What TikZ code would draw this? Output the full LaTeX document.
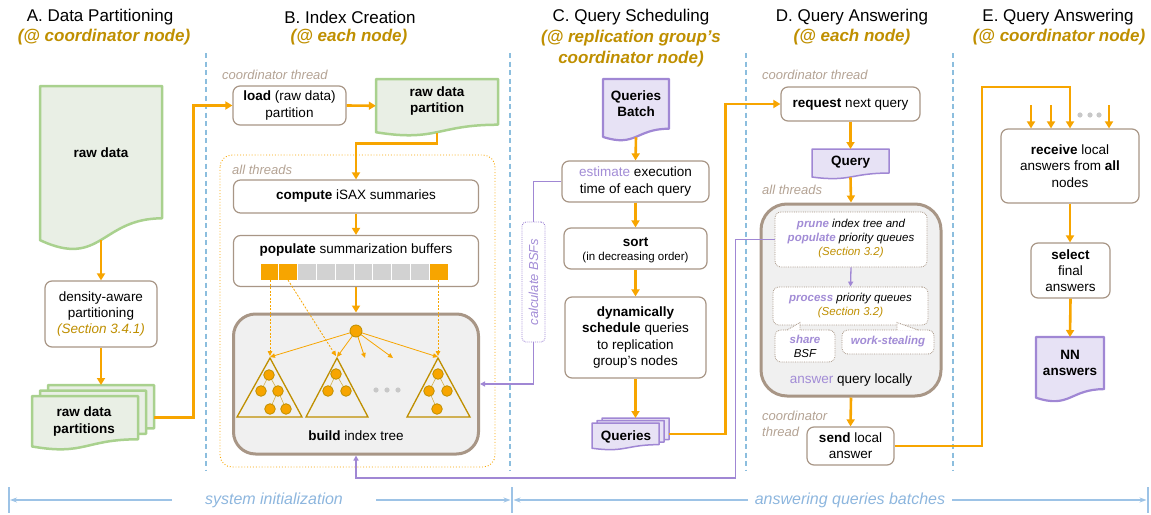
\documentclass[tikz,border=0pt]{standalone}
\usepackage{fontspec}
\setmainfont{Liberation Sans}
\usetikzlibrary{arrows.meta,calc}
\definecolor{orng}{RGB}{247,165,0}
\definecolor{gold}{RGB}{191,143,0}
\definecolor{brn}{RGB}{168,150,134}
\definecolor{thr}{RGB}{180,163,148}
\definecolor{grnb}{RGB}{169,209,142}
\definecolor{grnf}{RGB}{233,239,229}
\definecolor{purb}{RGB}{160,135,212}
\definecolor{purf}{RGB}{231,226,245}
\definecolor{purt}{RGB}{162,140,214}
\definecolor{dblue}{RGB}{140,190,222}
\definecolor{axisc}{RGB}{157,195,230}
\definecolor{axtxt}{RGB}{141,182,222}
\definecolor{boxg}{RGB}{240,240,240}
\definecolor{cellg}{RGB}{210,210,210}
\definecolor{dotg}{RGB}{200,200,200}
\newcommand{\szT}{\fontsize{17}{21}\selectfont}
\newcommand{\szB}{\fontsize{13.5}{16.3}\selectfont}
\newcommand{\szS}{\fontsize{11.5}{14}\selectfont}
\newcommand{\szL}{\fontsize{13}{16}\selectfont}
\newcommand{\szA}{\fontsize{16}{19}\selectfont}
% #1 name, #2 x0, #3 y0, #4 w, #5 h, #6 style
\newcommand{\docshape}[6]{%
  \draw[#6] (#2,#3) -- ({#2+#4},#3) -- ({#2+#4},{#3+0.802*#5})
    .. controls ({#2+0.5*#4},{#3+0.802*#5}) and ({#2+0.5*#4},{#3+1.1075*#5}) .. (#2,{#3+0.934*#5}) -- cycle;
  \node[inner sep=0pt,minimum width=#4pt,minimum height=0.933*#5pt,anchor=north] (#1) at ({#2+0.5*#4},#3) {};}
\begin{document}
\begin{tikzpicture}[x=1pt,y=-1pt,
  box/.style={draw=brn,line width=1.2pt,rounded corners=7pt,fill=white,align=center,inner sep=0pt,font=\szB},
  bigbox/.style={draw=brn,line width=3pt,rounded corners=22pt,fill=boxg,inner sep=0pt},
  dotbox/.style={draw=brn,densely dotted,line width=0.8pt,rounded corners=6pt,fill=white,inner sep=0pt},
  flow/.style={draw=orng,line width=2.6pt,-{Triangle[length=7pt,width=8pt]}},
  plink/.style={draw=purb,line width=1.3pt},
  parrow/.style={plink,-{Triangle[length=5pt,width=5pt]}},
  tarrow/.style={draw=orng,line width=0.8pt,-{Triangle[length=5pt,width=4.5pt]}},
  darrow/.style={draw=orng,line width=0.8pt,dash pattern=on 2pt off 1.5pt,-{Triangle[length=5pt,width=4.5pt]}},
  sepline/.style={draw=dblue,line width=1.6pt,dash pattern=on 5pt off 3.5pt},
  axline/.style={draw=axisc,line width=1.1pt},
  axarrow/.style={axline,-{Stealth[length=7pt,width=5pt]}},
  ttl/.style={font=\szT,inner sep=0pt},
  sub/.style={font=\szT\bfseries\itshape,text=gold,align=center,inner sep=0pt},
  lbl/.style={font=\szL\itshape,text=thr,anchor=west,align=left,inner sep=0pt},
  txt/.style={font=\szB,align=center,inner sep=0pt},
  doct/.style={font=\szB\bfseries,align=center,inner sep=0pt},
  greendoc/.style={draw=grnb,fill=grnf,line width=2.5pt,line join=round},
  purpdoc/.style={draw=purb,fill=purf,line width=2.2pt,line join=round},
  tri/.style={draw=gold,line width=1.3pt,line join=miter},
  leaf/.style={draw=gold,fill=orng,line width=0.8pt},
  tline/.style={draw=gold!70,line width=0.6pt},
]
\useasboundingbox (0,0) rectangle (1151,514);

% ---------- separators ----------
\foreach \sx in {206,510,746,953} \draw[sepline] (\sx,53) -- (\sx,470);

% ---------- titles ----------
\node[ttl] (tA) at (100,17) {A. Data Partitioning};
\node[sub] (sA) at (104,37) {(@ coordinator node)};
\node[ttl] (tB) at (350,17) {B. Index Creation};
\node[sub] (sB) at (349,37) {(@ each node)};
\node[ttl] (tC) at (631,17) {C. Query Scheduling};
\node[sub] (sC) at (631,48.5) {(@ replication group’s\\coordinator node)};
\node[ttl] (tD) at (852,17) {D. Query Answering};
\node[sub] (sD) at (852,37) {(@ each node)};
\node[ttl] (tE) at (1058,17) {E. Query Answering};
\node[sub] (sE) at (1059,37) {(@ coordinator node)};

% ---------- A ----------
\docshape{rawdata}{40}{86}{122}{165}{greendoc}
\node[doct] (rawdata-t) at (101,153) {raw data};
\node[box,minimum width=112pt,minimum height=66pt] (density) at (101,314)
  {density-aware\\partitioning\\\textcolor{gold}{\itshape (Section 3.4.1)}};
\docshape{parts3}{48}{385}{106}{54}{greendoc}
\docshape{parts2}{40}{390.5}{106}{54}{greendoc}
\docshape{parts1}{32}{396}{106}{54}{greendoc}
\node[doct] (parts-t) at (84,421.5) {raw data\\partitions};
\draw[flow] (rawdata.south) -- (density.north);
\draw[flow] (density.south) -- (parts3.north -| density.south);

% ---------- B ----------
\node[lbl] (ctB) at (222,75) {coordinator thread};
\node[box,minimum width=113pt,minimum height=39pt] (load) at (289.5,105.5) {\textbf{load} (raw data)\\partition};
\docshape{rawpart}{376}{79}{122}{57}{greendoc}
\node[doct] (rawpart-t) at (437,101) {raw data\\partition};
\draw[flow] ([yshift=-7pt]parts3.east) -- ++(39,0) |- (load.west);
\draw[flow] (load.east) -- (rawpart.west);

\draw[draw=orng,line width=0.9pt,dotted,rounded corners=12pt] (220,155) rectangle (495,467);
\node[lbl] (atB) at (232,170) {all threads};
\node[box,minimum width=245pt,minimum height=33pt] (compute) at (356,196.5) {\textbf{compute} iSAX summaries};
\node[box,minimum width=245pt,minimum height=51pt] (populate) at (356,261) {};
\node[txt] (populate-t) at (356,250) {\textbf{populate} summarization buffers};
\foreach \i/\c in {0/orng,1/orng,2/cellg,3/cellg,4/cellg,5/cellg,6/cellg,7/cellg,8/cellg,9/orng}
  \filldraw[fill=\c,draw=white,line width=0.8pt] ({260+\i*18.8},263) rectangle ++(18.8,17);
\node[bigbox,minimum width=245pt,minimum height=140pt] (build) at (356,384) {};
\node[txt] (build-t) at (356,436) {\textbf{build} index tree};
\draw[flow] (rawpart.south) -- ++(0,11) -| (compute.north);
\draw[flow] (compute.south) -- (populate.north);
\draw[flow] (populate.south) -- (build.north);

% index tree
\draw[tri] (270,358) -- (237,417) -- (302,417) -- cycle;
\draw[tri] (337,358) -- (306,417) -- (368,417) -- cycle;
\draw[tri] (438,358) -- (407,417) -- (470,417) -- cycle;
\draw[tline] (269,375) -- (261,391) (269,375) -- (278,391) (278,391) -- (270,409) (278,391) -- (286,409);
\draw[tline] (336,374) -- (328,391) (336,374) -- (346,391);
\draw[tline] (438,374) -- (429,391) (438,374) -- (447,391) (429,391) -- (437,409);
\foreach \p in {(269,375),(261,391),(278,391),(270,409),(286,409),(336,374),(328,391),(346,391),(438,374),(429,391),(447,391),(437,409)}
  \draw[leaf] \p circle (5.3pt);
\foreach \dx in {376,387,398} \fill[dotg] (\dx,390) circle (2.6pt);
\foreach \e in {(270,357),(337,357),(365,358),(393,358),(438,357)}
  \draw[tarrow] (356,331) -- \e;
\draw[leaf] (356,331) circle (6pt);
\draw[darrow] (270,280) -- (270,356);
\draw[darrow] (288,280) -- (336,356);
\draw[darrow] (438,280) -- (438,356);

% ---------- C ----------
\docshape{qbatch}{603}{79}{66}{62}{purpdoc}
\node[doct] (qbatch-t) at (636,103.5) {Queries\\Batch};
\node[box,minimum width=147pt,minimum height=41pt] (estimate) at (635.5,181.5) {\textcolor{purt}{estimate} execution\\time of each query};
\node[box,minimum width=143pt,minimum height=41pt] (sort) at (635.5,248.5) {};
\node[txt] (sort-t) at (635.5,242) {\textbf{sort}};
\node[txt,font=\fontsize{11.5}{14}\selectfont] (sort-t2) at (635.5,258) {(in decreasing order)};
\node[box,minimum width=141pt,minimum height=81pt] (schedule) at (635.5,337.5)
  {\textbf{dynamically}\\\textbf{schedule} queries\\to replication\\group’s nodes};
\docshape{q3}{602}{418}{67}{27}{purpdoc,line width=1.5pt}
\docshape{q2}{597}{420.5}{67}{27}{purpdoc,line width=1.5pt}
\docshape{q1}{592}{423}{67}{27}{purpdoc,line width=1.5pt}
\node[doct] (queries-t) at (626,437) {Queries};
\draw[flow] (qbatch.south) -- (estimate.north);
\draw[flow] (estimate.south) -- (sort.north);
\draw[flow] (sort.south) -- (schedule.north);
\draw[flow] (schedule.south) -- (q3.north -| schedule.south);

\node[draw=purb,densely dotted,line width=0.9pt,rounded corners=4pt,minimum width=23pt,minimum height=120pt,inner sep=0pt] (calcbsf) at (533.5,282) {};
\node[rotate=90,font=\szL\itshape,text=purt,inner sep=0pt] (calcbsf-t) at (533.5,282) {calculate BSFs};
\draw[plink] (estimate.west) -| (calcbsf.north);
\draw[parrow] (calcbsf.south) |- (build.east);

% ---------- D ----------
\node[lbl] (ctD) at (762,75) {coordinator thread};
\node[box,minimum width=139pt,minimum height=34pt] (request) at (850.5,104) {\textbf{request} next query};
\docshape{query}{812}{149}{77}{30}{purpdoc,line width=1.5pt}
\node[doct] (query-t) at (850.5,162) {Query};
\node[lbl] (atD) at (762,190) {all threads};
\node[bigbox,rounded corners=26pt,minimum width=180pt,minimum height=192pt] (answer) at (851,300) {};
\node[dotbox,minimum width=152pt,minimum height=55pt] (prune) at (851,239.5) {};
\node[font=\szS\itshape,align=center,inner sep=0pt] (prune-t) at (851,239)
  {\textcolor{purt}{\textbf{prune}} index tree and\\\textcolor{purt}{\textbf{populate}} priority queues\\\textcolor{gold}{(Section 3.2)}};
\node[dotbox,minimum width=155pt,minimum height=38pt] (process) at (850.5,306) {};
\node[font=\szS\itshape,align=center,inner sep=0pt] (process-t) at (850.5,306)
  {\textcolor{purt}{\textbf{process}} priority queues\\\textcolor{gold}{(Section 3.2)}};
\node[dotbox,minimum width=60pt,minimum height=32pt] (share) at (805,346) {};
\node[dotbox,minimum width=92pt,minimum height=24pt] (steal) at (888,342) {};
\fill[white] (787,330.6) -- (800,322.5) -- (800,330.6) -- cycle;
\fill[white] (897,330.6) -- (897,322.5) -- (918,330.6) -- cycle;
\draw[brn,densely dotted,line width=0.8pt] (787,330) -- (800,322.5) -- (800,330);
\draw[brn,densely dotted,line width=0.8pt] (897,330) -- (897,322.5) -- (918,330);
\node[font=\szS\itshape,align=center,inner sep=0pt] (share-t) at (805,346.5) {\textcolor{purt}{\textbf{share}}\\BSF};
\node[font=\szS\itshape\bfseries,text=purt,inner sep=0pt] (steal-t) at (888,342) {work-stealing};
\node[txt] (answer-t) at (851,380) {\textcolor{purt}{answer} query locally};
\draw[parrow] (prune.south) -- (process.north);
\node[lbl] (ctD2) at (762,424) {coordinator\\thread};
\node[box,minimum width=87pt,minimum height=38pt] (send) at (850.5,446) {\textbf{send} local\\answer};
\draw[flow] (request.south) -- (query.north);
\draw[flow] (query.south) -- (answer.north);
\draw[flow] (answer.south) -- (send.north);
\draw[flow] ([yshift=-3pt]q3.east) -- ++(56,0) |- (request.west);
\draw[parrow] (prune.west) -- ++(-39,0) |- (356,478) -- (build.south);

% ---------- E ----------
\node[box,minimum width=138pt,minimum height=74pt] (receive) at (1070,166)
  {\textbf{receive} local\\answers from \textbf{all}\\nodes};
\node[box,minimum width=79pt,minimum height=55pt] (select) at (1070.5,270.5) {\textbf{select}\\final\\answers};
\docshape{nn}{1036}{337}{68}{65}{purpdoc}
\node[doct] (nn-t) at (1070,363) {NN\\answers};
\draw[flow] (send.east) -- (982,446) |- (1070,87) -- (receive.north);
\coordinate (in1) at (1031,105);
\coordinate (in2) at (1051,105);
\coordinate (in3) at (1109,105);
\foreach \c in {in1,in2,in3} \draw[flow] (\c) -- (\c |- receive.north);
\foreach \dx in {1080,1090,1099} \fill[dotg] (\dx,115) circle (2.6pt);
\draw[flow] (receive.south) -- (select.north -| receive.south);
\draw[flow] (select.south) -- (nn.north);

% ---------- axis ----------
\draw[axline] (9,487) -- (9,513);
\draw[axline] (512,487) -- (512,513);
\draw[axline] (1148,487) -- (1148,513);
\coordinate (a1) at (172,500); \coordinate (a1e) at (10,500);
\coordinate (a2) at (376,500); \coordinate (a2e) at (510.5,500);
\coordinate (a3) at (748,500); \coordinate (a3e) at (513.5,500);
\coordinate (a4) at (952,500); \coordinate (a4e) at (1146.5,500);
\draw[axarrow] (a1) -- (a1e);
\draw[axarrow] (a2) -- (a2e);
\draw[axarrow] (a3) -- (a3e);
\draw[axarrow] (a4) -- (a4e);
\node[font=\szA\itshape,text=axtxt,inner sep=0pt] (init) at (274,500) {system initialization};
\node[font=\szA\itshape,text=axtxt,inner sep=0pt] (batches) at (850,500) {answering queries batches};
\end{tikzpicture}
\end{document}
